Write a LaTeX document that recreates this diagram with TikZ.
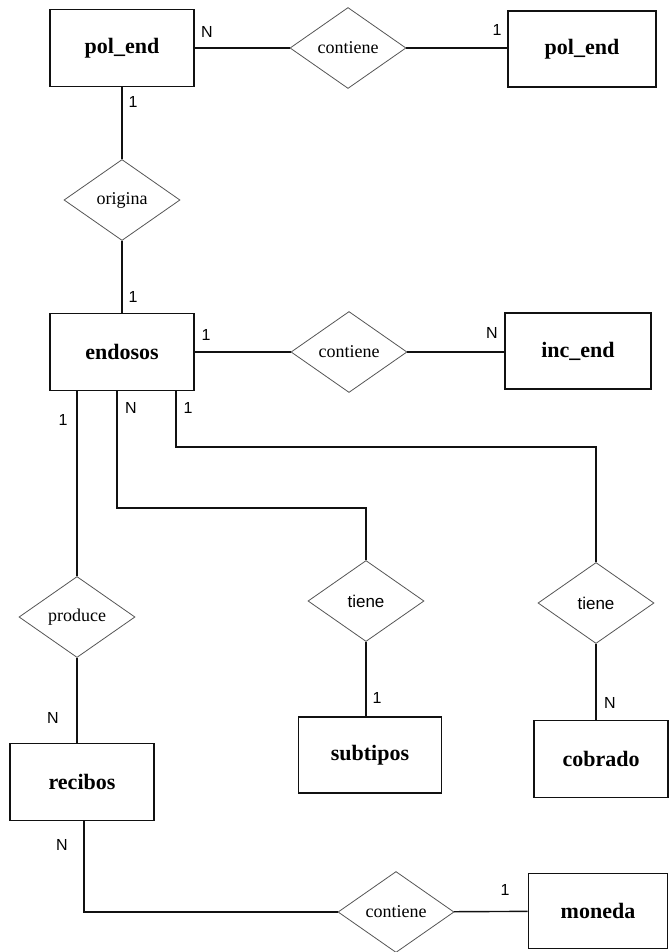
\documentclass[tikz,border=0pt]{standalone}
\usepackage{fontspec}
\setmainfont{Liberation Serif}
\setsansfont{Liberation Sans}
\usepackage{tikz}
\usetikzlibrary{positioning,calc,shapes.geometric}
\usepackage{xcolor}
\definecolor{Ink}{HTML}{111111}
\definecolor{Rim}{HTML}{555555}
\tikzset{
 entity/.style={draw=Ink, line width=1.8pt, minimum width=144pt, minimum height=77pt, inner sep=0pt, font=\fontsize{22}{24}\selectfont\bfseries},
 relation/.style={diamond, draw=Rim, line width=0.8pt, minimum width=116pt, minimum height=81pt, inner sep=0pt, font=\fontsize{18}{20}\selectfont},
 sfrelation/.style={relation, font=\sffamily\fontsize{17}{19}\selectfont},
 card/.style={inner sep=0pt, font=\sffamily\fontsize{16}{18}\selectfont},
 link/.style={draw=Ink, line width=1.4pt}
}
\begin{document}
\begin{tikzpicture}[x=1pt,y=-1pt]
\useasboundingbox (0,0) rectangle (670,952);
% entidades
\node[entity] (polL) at (122,48) {pol\_end};
\node[entity,minimum width=148pt,minimum height=76pt] (polR) at (582,49) {pol\_end};
\node[entity] (endosos) at (122,352) {endosos};
\node[entity,minimum width=146pt,minimum height=76pt] (incend) at (578,351) {inc\_end};
\node[entity] (recibos) at (82,782) {recibos};
\node[entity,minimum width=143pt,minimum height=76pt] (subtipos) at (370,755) {subtipos};
\node[entity,minimum width=134pt] (cobrado) at (601,759) {cobrado};
\node[entity,minimum width=139pt,minimum height=75pt] (moneda) at (598,911) {moneda};
% relaciones
\node[relation] (contA) at (348,48) {contiene};
\node[relation] (origina) at (122,200) {origina};
\node[relation] (contB) at (349,352) {contiene};
\node[relation] (produce) at (77,617) {produce};
\node[sfrelation] (tieneA) at (366,601) {tiene};
\node[sfrelation] (tieneB) at (596,603) {tiene};
\node[relation] (contC) at (396,912) {contiene};
% lineas
\draw[link] (polL) -- (contA);
\draw[link] (contA) -- (contA -| polR.west);
\draw[link] (polL) -- (origina);
\draw[link] (origina) -- (endosos);
\draw[link] (endosos) -- (contB);
\draw[link] (contB) -- (contB -| incend.west);
\draw[link] (endosos.south -| produce) -- (produce);
\draw[link] ([xshift=-5pt]endosos.south) |- ($(tieneA.north)+(0,-52)$) -- (tieneA.north);
\draw[link] ([xshift=54pt]endosos.south) |- ($(tieneB.north)+(0,-115)$) -- (tieneB.north);
\draw[link] (produce.south) -- (produce.south |- recibos.north);
\draw[link] (tieneA.south) -- (tieneA.south |- subtipos.north);
\draw[link] (tieneB.south) -- (tieneB.south |- cobrado.north);
\draw[link] ([xshift=2pt]recibos.south) |- (contC.west);
\draw[link] (contC) -- (moneda);
% cardinalidades
\node[card] (nPolL) at (207,32) {N};
\node[card] (uPolR) at (497,30) {1};
\node[card] (uPolO) at (133,102) {1};
\node[card] (uEndO) at (133,297) {1};
\node[card] (uEndC) at (206,335) {1};
\node[card] (nInc) at (492,333) {N};
\node[card] (uEndP) at (63,420) {1};
\node[card] (nEndT) at (131,408) {N};
\node[card] (uEndT) at (188,408) {1};
\node[card] (nRecP) at (53,718) {N};
\node[card] (uSub) at (377,698) {1};
\node[card] (nCob) at (610,703) {N};
\node[card] (nRecC) at (62,845) {N};
\node[card] (uMon) at (505,890) {1};
\end{tikzpicture}
\end{document}
